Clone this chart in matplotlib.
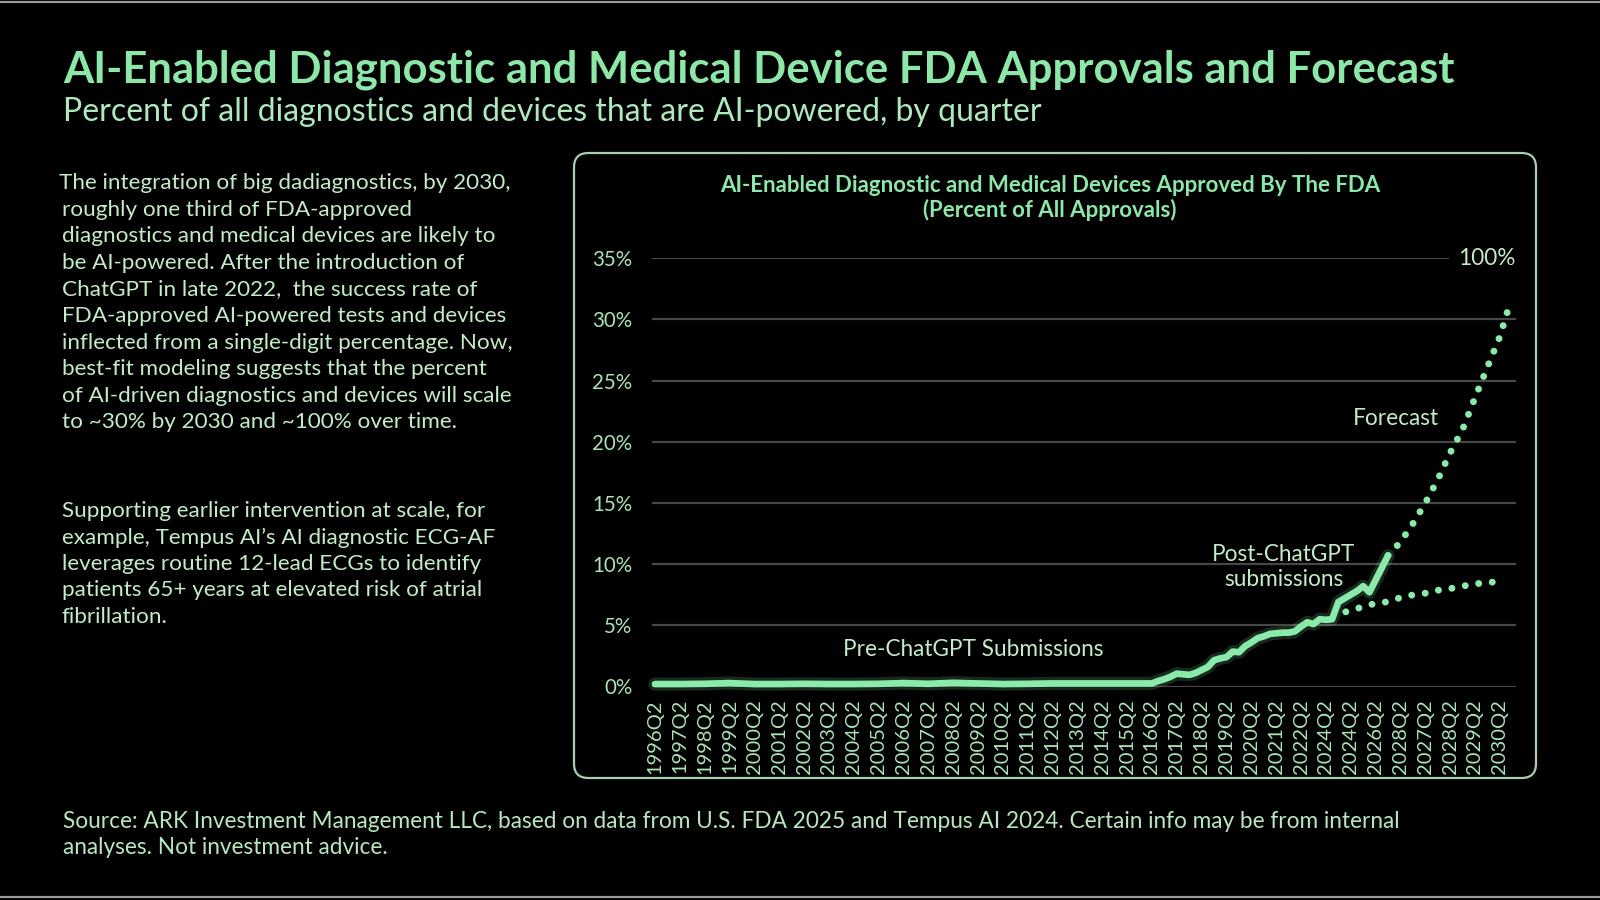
import matplotlib
matplotlib.use("Agg")
import matplotlib.pyplot as plt
from matplotlib.patches import FancyBboxPatch
from matplotlib.lines import Line2D

# ---------------- data ----------------
tick_labels = ["1996Q2", "1997Q2", "1998Q2", "1999Q2", "2000Q2", "2001Q2", "2002Q2",
               "2003Q2", "2004Q2", "2005Q2", "2006Q2", "2007Q2", "2008Q2", "2009Q2",
               "2010Q2", "2011Q2", "2012Q2", "2013Q2", "2014Q2", "2015Q2", "2016Q2",
               "2017Q2", "2018Q2", "2019Q2", "2020Q2", "2021Q2", "2022Q2", "2024Q2",
               "2024Q2", "2026Q2", "2028Q2", "2027Q2", "2028Q2", "2029Q2", "2030Q2"]

# actual share (% of approvals); position measured in label slots
actual_pos = [0, 1, 2, 3, 4, 5, 6, 7, 8, 9, 10, 11, 12, 13, 14, 15, 16, 17, 18, 19,
              20.0, 20.25, 20.5, 20.75, 21.0, 21.25, 21.5, 21.75, 22.0, 22.25, 22.5, 22.75,
              23.0, 23.25, 23.5, 23.75, 24.0, 24.25, 24.5, 24.75, 25.0, 25.25, 25.5, 25.75,
              26.0, 26.25, 26.5, 26.75, 27.0, 27.25, 27.5, 27.75, 28.0, 28.25, 28.5, 28.75,
              29.0, 29.25, 29.5]
actual_pct = [0.20, 0.20, 0.22, 0.28, 0.20, 0.20, 0.22, 0.20, 0.20, 0.22, 0.28, 0.22,
              0.30, 0.25, 0.20, 0.22, 0.25, 0.25, 0.25, 0.25,
              0.25, 0.45, 0.60, 0.80, 1.05, 1.00, 0.95, 1.10, 1.35, 1.60, 2.15, 2.30,
              2.40, 2.85, 2.80, 3.30, 3.60, 3.95, 4.10, 4.30, 4.35, 4.40, 4.40, 4.50,
              4.90, 5.25, 5.10, 5.50, 5.45, 5.50, 6.90, 7.20, 7.50, 7.80, 8.20, 7.70,
              8.70, 9.70, 10.70]

# forecast: high scenario (to ~100% over time) and low scenario
fc_high_pos = [29.5, 30.0, 30.5, 31.0, 31.5, 32.0, 32.5, 33.0, 33.5, 34.0, 34.45]
fc_high_pct = [10.7, 11.8, 13.3, 15.0, 16.9, 19.1, 21.0, 23.6, 26.1, 28.6, 31.6]

fc_low_pos = [27.8, 28.3, 28.8, 29.4, 29.9, 30.4, 30.95, 31.45, 32.0, 32.5, 33.05, 33.6, 34.1]
fc_low_pct = [6.1, 6.4, 6.7, 6.9, 7.2, 7.45, 7.6, 7.85, 8.0, 8.2, 8.4, 8.5, 8.65]

y_ticks = [0, 5, 10, 15, 20, 25, 30, 35]

# ---------------- style ----------------
plt.rcParams['font.family'] = ['Lato', 'DejaVu Sans']
BG = '#000000'
MINT = '#8ce7a8'
LINE = '#8aeaa9'
PALE = '#c3ebc8'
TICK = '#a9e3b7'
GRID = '#474747'

W, H = 1600, 900
fig = plt.figure(figsize=(16, 9), dpi=100, facecolor=BG)

def fx(px):
    return px / W

def fy(py):
    return 1 - py / H

# screenshot frame lines
fig.add_artist(Line2D([0, 1], [fy(2), fy(2)], color='#9a9a9a', lw=1.6))
fig.add_artist(Line2D([0, 1], [fy(897), fy(897)], color='#9a9a9a', lw=1.6))

# titles
fig.text(fx(63), fy(82), "AI-Enabled Diagnostic and Medical Device FDA Approvals and Forecast",
         color=MINT, fontsize=31.4, fontweight='bold', ha='left', va='baseline')
fig.text(fx(63), fy(121), "Percent of all diagnostics and devices that are AI-powered, by quarter",
         color='#aee9bd', fontsize=23, ha='left', va='baseline')

para1 = ["The integration of big dadiagnostics, by 2030,",
         "roughly one third of FDA-approved",
         "diagnostics and medical devices are likely to",
         "be AI-powered. After the introduction of",
         "ChatGPT in late 2022,  the success rate of",
         "FDA-approved AI-powered tests and devices",
         "inflected from a single-digit percentage. Now,",
         "best-fit modeling suggests that the percent",
         "of AI-driven diagnostics and devices will scale",
         "to ~30% by 2030 and ~100% over time."]
para2 = ["Supporting earlier intervention at scale, for",
         "example, Tempus AI\u2019s AI diagnostic ECG-AF",
         "leverages routine 12-lead ECGs to identify",
         "patients 65+ years at elevated risk of atrial",
         "fibrillation."]
for i, s in enumerate(para1):
    fig.text(fx(59 if i == 0 else 62), fy(189 + 26.6 * i), s, color=PALE,
             fontsize=16.2, ha='left', va='baseline')
for i, s in enumerate(para2):
    fig.text(fx(62), fy(517 + 26.5 * i), s, color=PALE,
             fontsize=16.2, ha='left', va='baseline')

fig.text(fx(63), fy(828), "Source: ARK Investment Management LLC, based on data from U.S. FDA 2025 "
         "and Tempus AI 2024. Certain info may be from internal", color='#b8e6c0',
         fontsize=16.3, ha='left', va='baseline')
fig.text(fx(63), fy(854), "analyses. Not investment advice.", color='#b8e6c0',
         fontsize=16.3, ha='left', va='baseline')

# chart panel
panel = FancyBboxPatch((fx(574), fy(778)), fx(1536) - fx(574), fy(153) - fy(778),
                       boxstyle="round,pad=0,rounding_size=0.009",
                       transform=fig.transFigure, facecolor='none', edgecolor='#a9cfb1',
                       lw=1.6, mutation_aspect=16 / 9, zorder=-1)
fig.add_artist(panel)

fig.text(fx(1050), fy(192), "AI-Enabled Diagnostic and Medical Devices Approved By The FDA",
         color=MINT, fontsize=16, fontweight='bold', ha='center', va='baseline')
fig.text(fx(1050), fy(217), "(Percent of All Approvals)",
         color=MINT, fontsize=16, fontweight='bold', ha='center', va='baseline')

# axes
ax_l, ax_r = 652, 1516
ax_t, ax_b = 258.2, 686.5
ax = fig.add_axes([fx(ax_l), fy(ax_b), fx(ax_r) - fx(ax_l), fy(ax_t) - fy(ax_b)])
ax.set_facecolor('none')
ax.set_xlim(-0.12, 34.65)
ax.set_ylim(0, 35)
for s in ax.spines.values():
    s.set_visible(False)

ax.set_yticks(y_ticks)
ax.set_yticklabels([f"{v}%" for v in y_ticks])
ax.set_xticks(range(len(tick_labels)))
ax.set_xticklabels(tick_labels, rotation=90)
ax.tick_params(axis='y', length=0, pad=14, labelsize=14.8, labelcolor=TICK)
ax.tick_params(axis='x', length=0, pad=9, labelsize=14.5, labelcolor=TICK)
ax.grid(axis='y', color=GRID, lw=1.6)
ax.grid(axis='x', visible=False)
ax.set_axisbelow(True)

# actual line with glow
ax.plot(actual_pos, actual_pct, color=LINE, lw=9.5, alpha=0.18, solid_capstyle='round',
        solid_joinstyle='round', clip_on=False, zorder=3)
ax.plot(actual_pos, actual_pct, color=LINE, lw=4.8, solid_capstyle='round',
        solid_joinstyle='round', clip_on=False, zorder=4)

# forecasts (dotted)
ax.plot(fc_high_pos, fc_high_pct, color=LINE, lw=5.0, ls=(0, (0.01, 1.95)),
        dash_capstyle='round', clip_on=False, zorder=3)
ax.plot(fc_low_pos, fc_low_pct, color=LINE, lw=5.0, ls=(0, (0.01, 1.95)),
        dash_capstyle='round', clip_on=False, zorder=3)

# annotations
ax.text(12.8, 2.5, "Pre-ChatGPT Submissions", color=PALE, fontsize=16.3,
        ha='center', va='baseline')
ax.text(25.3, 10.25, "Post-ChatGPT", color=PALE, fontsize=16.3, ha='center', va='baseline')
ax.text(25.3, 8.2, "submissions", color=PALE, fontsize=16.3, ha='center', va='baseline')
ax.text(29.8, 21.4, "Forecast", color=PALE, fontsize=16.3, ha='center', va='baseline')
ax.text(34.62, 35, "100%", color=PALE, fontsize=16.3, ha='right', va='center', zorder=5,
        bbox=dict(boxstyle='square,pad=0.4', facecolor=BG, edgecolor='none'),
        clip_on=False)

fig.savefig("out.png", dpi=100, facecolor=BG)
